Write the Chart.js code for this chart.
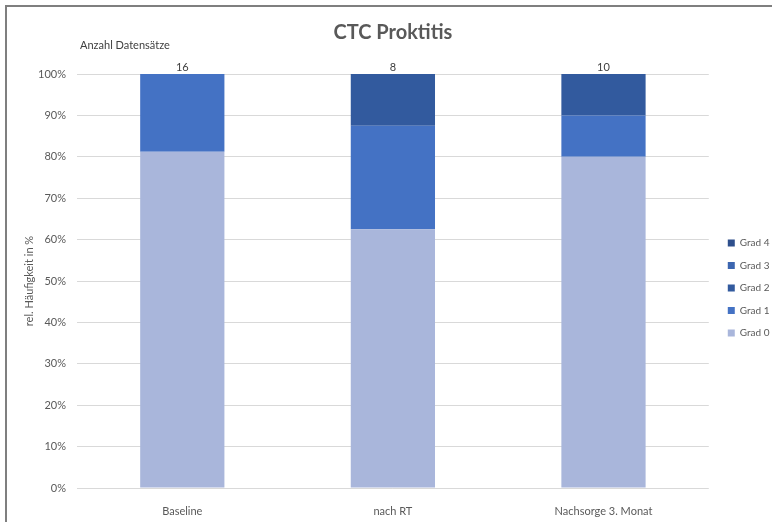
<!DOCTYPE html>
<html>
<head>
<meta charset="utf-8">
<script src="https://cdn.jsdelivr.net/npm/chart.js@4/dist/chart.umd.min.js"></script>
<style>
  html, body { margin: 0; padding: 0; background: #fff; }
  #wrap { position: relative; width: 772px; height: 522px; }
  #frame { position: absolute; left: 5px; top: 5px; right: 0; bottom: 0; border-top: 2px solid #7f7f7f; border-left: 2px solid #7f7f7f; pointer-events: none; }
  canvas { position: absolute; left: 0; top: 0; }
</style>
</head>
<body>
<div id="wrap">
  <canvas id="chart" width="772" height="522"></canvas>
  <div id="frame"></div>
</div>
<script>
// data
const categories = ['Baseline', 'nach RT', 'Nachsorge 3. Monat'];
const counts = [16, 8, 10];
const grad0 = [81.25, 62.5, 80];
const grad1 = [18.75, 25, 10];
const grad2 = [0, 12.5, 10];
const grad3 = [0, 0, 0];
const grad4 = [0, 0, 0];
const yTicks = [0, 10, 20, 30, 40, 50, 60, 70, 80, 90, 100];

const FONT = 'Lato, "Open Sans", sans-serif';
const textGrey = '#595959';

// counts on top of the bars + "Anzahl Datensätze" caption
const countLabels = {
  id: 'countLabels',
  afterDatasetsDraw(chart) {
    const { ctx, scales: { x, y }, chartArea } = chart;
    ctx.save();
    ctx.font = '11px ' + FONT;
    ctx.fillStyle = '#404040';
    ctx.textAlign = 'center';
    ctx.textBaseline = 'bottom';
    counts.forEach((c, i) => {
      ctx.fillText(String(c), x.getPixelForValue(i), y.getPixelForValue(100) - 1);
    });
    ctx.textAlign = 'left';
    ctx.textBaseline = 'middle';
    ctx.fillText('Anzahl Datensätze', chartArea.left + 3, 45);
    ctx.restore();
  }
};

// move the legend a bit away from the plot and down, like the original
const legendShift = {
  id: 'legendShift',
  afterLayout(chart) {
    const lg = chart.legend;
    if (!lg) return;
    lg.left += 6.5; lg.right += 6.5;
    lg.top += 27; lg.bottom += 27;
  }
};

const ds = (label, data, color) => ({
  label, data, backgroundColor: color, borderWidth: 0,
  barPercentage: 0.4, categoryPercentage: 1
});

new Chart(document.getElementById('chart'), {
  type: 'bar',
  data: {
    labels: categories,
    datasets: [
      ds('Grad 0', grad0, '#a9b6db'),
      ds('Grad 1', grad1, '#4472c4'),
      ds('Grad 2', grad2, '#325a9e'),
      ds('Grad 3', grad3, '#3c66b0'),
      ds('Grad 4', grad4, '#2e4f8c')
    ]
  },
  options: {
    responsive: false,
    animation: false,
    layout: { padding: { left: 0, right: -1, top: 0, bottom: 0 } },
    plugins: {
      tooltip: { enabled: false },
      title: {
        display: true,
        fullSize: false,
        text: 'CTC Proktitis',
        color: textGrey,
        font: { family: FONT, size: 20, weight: 'bold' },
        padding: { top: 21, bottom: 29 }
      },
      legend: {
        position: 'right',
        reverse: true,
        labels: {
          boxWidth: 7, boxHeight: 7, padding: 12.5,
          color: textGrey,
          font: { family: FONT, size: 10 }
        }
      }
    },
    scales: {
      x: {
        stacked: true,
        grid: { display: false },
        border: { display: false },
        ticks: { color: textGrey, font: { family: FONT, size: 11 }, padding: 9, maxRotation: 0 },
        afterFit: s => { s.height = 34; }
      },
      y: {
        stacked: true,
        min: 0, max: 100,
        afterBuildTicks: s => { s.ticks = yTicks.map(v => ({ value: v })); },
        grid: { color: '#d9d9d9', drawTicks: false },
        border: { display: false },
        ticks: { color: textGrey, font: { family: FONT, size: 11 }, padding: 11, callback: v => v + '%' },
        title: {
          display: true,
          text: 'rel. Häufigkeit in %',
          color: textGrey,
          font: { family: FONT, size: 11 },
          padding: { top: 23, bottom: 0 }
        },
        afterFit: s => { s.width = 77; }
      }
    }
  },
  plugins: [countLabels, legendShift]
});
</script>
</body>
</html>
